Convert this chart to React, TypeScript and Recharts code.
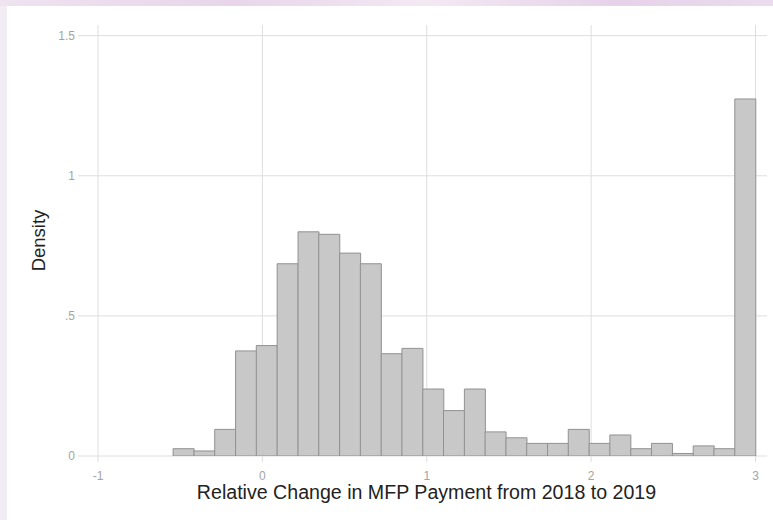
import React from 'react';
import { ComposedChart, Bar, XAxis, YAxis, CartesianGrid } from 'recharts';

// Histogram bin centres (relative change) and densities
const binCenters = [
  -0.48, -0.353, -0.227, -0.1, 0.026, 0.153, 0.28, 0.406, 0.533, 0.659,
  0.786, 0.912, 1.039, 1.165, 1.292, 1.418, 1.545, 1.671, 1.798, 1.924,
  2.051, 2.177, 2.304, 2.43, 2.557, 2.684, 2.81, 2.937,
];
const densities = [
  0.026, 0.018, 0.095, 0.375, 0.394, 0.686, 0.8, 0.791, 0.724, 0.686,
  0.365, 0.384, 0.239, 0.162, 0.239, 0.086, 0.065, 0.045, 0.045, 0.095,
  0.045, 0.075, 0.026, 0.045, 0.009, 0.036, 0.026, 1.274,
];
const xTicks = [-1, 0, 1, 2, 3];
const xTickLabels = ['-1', '0', '1', '2', '3'];
const yTicks = [0, 0.5, 1, 1.5];
const yTickLabels = ['0', '.5', '1', '1.5'];

const data = binCenters.map((x, i) => ({ x, density: densities[i] }));

const FONT = '"Liberation Sans", Arial, "DejaVu Sans", sans-serif';
const GRID = '#dedede';
const TICK_TEXT = '#a3a3a3';

export default function App() {
  return (
    <div
      style={{
        position: 'absolute',
        left: 0,
        top: 0,
        width: 773,
        height: 520,
        background: '#f2edf5',
        overflow: 'hidden',
        fontFamily: FONT,
      }}
    >
      <div
        style={{
          position: 'absolute',
          left: 0,
          top: 0,
          width: 773,
          height: 6,
          background: 'linear-gradient(90deg, #efe3f0 0%, #e8d5ea 30%, #f3e9f3 55%, #e6d2e9 80%, #eadcee 100%)',
        }}
      />
      <div
        style={{
          position: 'absolute',
          left: 7,
          top: 6,
          width: 766,
          height: 514,
          background: '#ffffff',
        }}
      />
      <div style={{ position: 'absolute', left: 0, top: 0 }}>
        <ComposedChart
          width={773}
          height={520}
          data={data}
          margin={{ top: 25, right: 6, left: 38, bottom: 24 }}
          barCategoryGap={0}
          barGap={0}
        >
          <CartesianGrid
            stroke={GRID}
            strokeWidth={1}
            verticalValues={xTicks}
            horizontalValues={yTicks}
          />
          <XAxis
            type="number"
            dataKey="x"
            domain={[-1, 3.07]}
            ticks={xTicks}
            tickFormatter={(v: number) => xTickLabels[xTicks.indexOf(v)] ?? String(v)}
            axisLine={false}
            tickLine={{ stroke: GRID }}
            tickSize={6}
            tickMargin={9}
            height={40}
            tick={{ fill: TICK_TEXT, fontSize: 12, fontFamily: FONT }}
            label={{
              content: (props: any) => {
                const vb = props.viewBox || { x: 98, y: 456, width: 669 };
                return (
                  <text
                    x={vb.x + vb.width / 2 - 6}
                    y={vb.y + 43}
                    textAnchor="middle"
                    fill="#222"
                    fontSize={19.6}
                    fontFamily={FONT}
                  >
                    Relative Change in MFP Payment from 2018 to 2019
                  </text>
                );
              },
            }}
          />
          <YAxis
            type="number"
            domain={[0, 1.538]}
            ticks={yTicks}
            tickFormatter={(v: number) => yTickLabels[yTicks.indexOf(v)] ?? String(v)}
            axisLine={false}
            tickLine={{ stroke: GRID }}
            tickSize={20}
            tickMargin={3}
            width={60}
            allowDataOverflow
            tick={{ fill: TICK_TEXT, fontSize: 12, fontFamily: FONT }}
            label={{
              value: 'Density',
              angle: -90,
              position: 'insideLeft',
              offset: 0,
              fill: '#222',
              fontSize: 18.5,
              fontFamily: FONT,
              style: { textAnchor: 'middle' },
            }}
          />
          <Bar
            dataKey="density"
            fill="#c8c8c8"
            stroke="#919191"
            strokeWidth={1}
            isAnimationActive={false}
          />
        </ComposedChart>
      </div>
    </div>
  );
}
